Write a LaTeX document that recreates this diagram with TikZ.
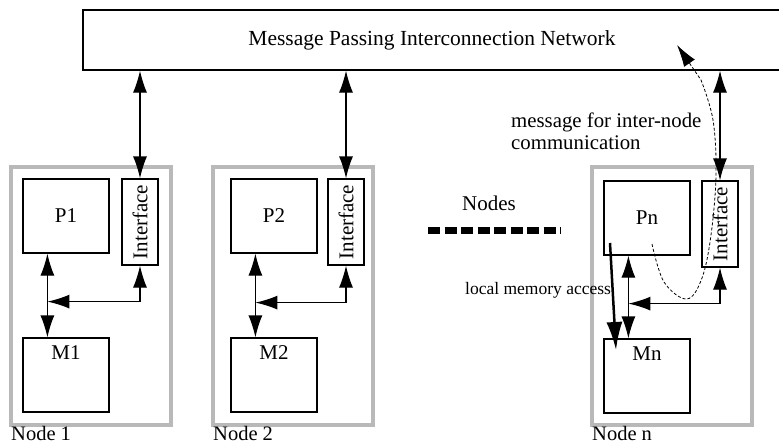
\documentclass[tikz,border=0pt]{standalone}
\usepackage{fontspec}
\setmainfont{Liberation Serif}
\usetikzlibrary{arrows.meta,calc}

\begin{document}
\begin{tikzpicture}[x=1pt,y=-1pt,
  every node/.style={font=\fontsize{21}{23}\selectfont},
  frame/.style={draw=gray!55, line width=4pt, minimum width=160pt, minimum height=258pt, inner sep=0pt},
  unit/.style={draw, line width=1.2pt, minimum width=86pt, minimum height=74pt, inner sep=0pt},
  iface/.style={draw, line width=1.2pt, minimum width=36pt, minimum height=86pt, inner sep=0pt},
  tip/.tip={Latex[length=22pt,width=14pt]},
  link/.style={line width=1.2pt, tip-tip},
  caption/.style={anchor=west, inner sep=0pt},
  nodename/.style={anchor=base west, inner sep=0pt, font=\fontsize{20.5}{22}\selectfont},
]
\useasboundingbox (0,0) rectangle (779,445);

% interconnection network
\node[draw, line width=1.2pt, minimum width=698pt, minimum height=60pt, font=\fontsize{21.5}{23}\selectfont] (net) at (432,40)
  {Message Passing Interconnection Network};

% node 1
\node[frame] (n1) at (91,296) {};
\node[unit] (p1) at (66,216) {P1};
\node[iface] (i1) at (140,222) {\rotatebox{90}{Interface}};
\node[unit, label={[anchor=center, yshift=-15pt]north:M1}] (m1) at (66,375) {};
\node[nodename] at ($(n1.south west)+(2,13)$) {Node 1};

% node 2
\node[frame] (n2) at (293,296) {};
\node[unit] (p2) at (274,216) {P2};
\node[iface] (i2) at (346,222) {\rotatebox{90}{Interface}};
\node[unit, label={[anchor=center, yshift=-15pt]north:M2}] (m2) at (274,375) {};
\node[nodename] at ($(n2.south west)+(2,13)$) {Node 2};

% node n
\node[frame] (nn) at (672,296) {};
\node[unit] (pn) at (647,218) {Pn};
\node[iface] (in) at (720,224) {\rotatebox{90}{Interface}};
\node[unit, label={[anchor=center, yshift=-15pt]north:Mn}] (mn) at (647,376) {};
\node[nodename] at ($(nn.south west)+(2,13)$) {Node n};

% links to the network
\draw[link] (net.south -| i1.north) -- (i1.north);
\draw[link] (net.south -| i2.north) -- (i2.north);
\draw[link] (net.south -| in.north) -- (in.north);

% processor / memory / interface links
\coordinate (j1) at ($(p1.south west)+(25,48)$);
\coordinate (j2) at ($(p2.south west)+(25,49)$);
\coordinate (jn) at ($(pn.south west)+(25,48)$);
\draw[link] ($(p1.south west)+(25,0)$) -- (j1 |- m1.north);
\draw[link] ($(p2.south west)+(25,0)$) -- (j2 |- m2.north);
\draw[link] ($(pn.south west)+(25,0)$) -- (jn |- mn.north);
\draw[link] (i1.south) |- (j1);
\draw[link] (i2.south) |- (j2);
\draw[link] (in.south) |- (jn);

% other nodes
\node at (489,203) {Nodes};
\draw[line width=7pt, dash pattern=on 12pt off 4.5pt] (428,230) -- (561,230);

% local memory access
\node[caption, font=\fontsize{17.5}{19}\selectfont] at (465,290) {local memory access};
\coordinate (ls) at (610,243);
\coordinate (le) at (616,350);
\draw[line width=2.5pt, -{Latex[length=28pt,width=16pt]}] (ls) -- (le);

% message for inter-node communication
\node[caption, align=left, font=\fontsize{20.8}{22}\selectfont] at (511,131) {message for inter-node\\communication};
\coordinate (ms) at (652,244);
\coordinate (me) at (677,45);
\draw[line width=0.8pt, dash pattern=on 3pt off 2pt, -{Latex[length=22pt,width=13pt]}]
  plot[smooth, tension=0.6] coordinates {(ms) (664,282) (687,299) (702,278) (711,235) (716,175) (713,120) (701,80)}
  -- (me);
\end{tikzpicture}
\end{document}
